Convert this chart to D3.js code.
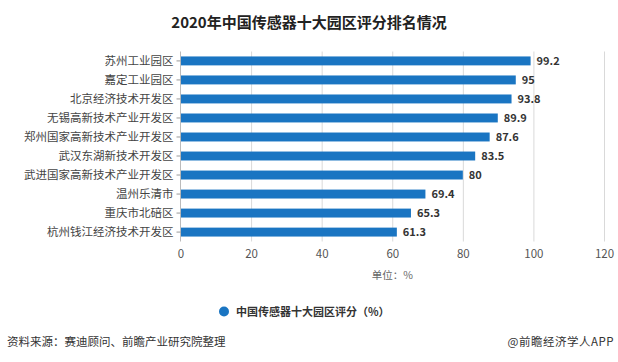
<!DOCTYPE html>
<html>
<head>
<meta charset="utf-8">
<title>2020年中国传感器十大园区评分排名情况</title>
<script src="https://d3js.org/d3.v7.min.js"></script>
<style>
body { margin: 0; background: #fff; font-family: "Noto Sans CJK SC", "Noto Sans", sans-serif; }
.grid line { stroke: #d9d9d9; }
.grid path { display: none; }
</style>
</head>
<body>
<script>
// data
var parks = ["苏州工业园区", "嘉定工业园区", "北京经济技术开发区", "无锡高新技术产业开发区",
  "郑州国家高新技术产业开发区", "武汉东湖新技术开发区", "武进国家高新技术产业开发区",
  "温州乐清市", "重庆市北碚区", "杭州钱江经济技术开发区"];
var scores = [99.2, 95, 93.8, 89.9, 87.6, 83.5, 80, 69.4, 65.3, 61.3];
var xTicks = [0, 20, 40, 60, 80, 100, 120];

var width = 618, height = 362;
var barColor = "#1a75c2";

var svg = d3.select("body").append("svg")
  .attr("width", width)
  .attr("height", height);

var x = d3.scaleLinear().domain([0, 120]).range([180.5, 604]);
var y = d3.scaleBand().domain(parks).range([51.5, 241.5]).paddingInner(0.53).paddingOuter(0.26);

// title
svg.append("text")
  .attr("x", 309).attr("y", 28)
  .attr("text-anchor", "middle")
  .attr("font-size", 15).attr("font-weight", "bold")
  .attr("fill", "#222")
  .text("2020年中国传感器十大园区评分排名情况");

// gridlines
svg.append("g").attr("class", "grid")
  .attr("transform", "translate(0,51.5)")
  .call(d3.axisBottom(x).tickValues(xTicks.slice(1)).tickSize(190).tickFormat(""));

// bars
svg.append("g").selectAll("rect")
  .data(scores)
  .enter().append("rect")
  .attr("x", x(0))
  .attr("y", function(d, i) { return y(parks[i]); })
  .attr("width", function(d) { return x(d) - x(0); })
  .attr("height", y.bandwidth())
  .attr("fill", barColor);

// value labels
svg.append("g").selectAll("text")
  .data(scores)
  .enter().append("text")
  .attr("x", function(d) { return x(d) + 6; })
  .attr("y", function(d, i) { return y(parks[i]) + y.bandwidth() / 2; })
  .attr("dy", "0.36em")
  .attr("font-size", 11).attr("font-weight", "bold")
  .attr("fill", "#333")
  .text(function(d) { return d; });

// y axis
var yAxis = svg.append("g")
  .attr("transform", "translate(180.5,0)")
  .call(d3.axisLeft(y).tickSize(4).tickPadding(3));
yAxis.select(".domain").attr("stroke", "#bbb").attr("d", "M0,51.5V241.5");
yAxis.selectAll(".tick line").attr("stroke", "#999");
yAxis.selectAll("text").attr("font-size", 11.5).attr("fill", "#444")
  .attr("font-family", "Noto Sans CJK SC");

// x tick labels
var xAxis = svg.append("g")
  .attr("transform", "translate(0,241.5)")
  .call(d3.axisBottom(x).tickValues(xTicks).tickSize(0).tickPadding(8));
xAxis.select(".domain").remove();
xAxis.selectAll("text").attr("font-size", 11.5).attr("fill", "#555")
  .attr("font-family", "Noto Sans CJK SC");

// unit
svg.append("text")
  .attr("x", x(60)).attr("y", 279)
  .attr("text-anchor", "middle")
  .attr("font-size", 10.5).attr("fill", "#666")
  .text("单位：%");

// legend
svg.append("circle").attr("cx", 224).attr("cy", 311.5).attr("r", 5).attr("fill", barColor);
svg.append("text")
  .attr("x", 236).attr("y", 315.5)
  .attr("font-size", 11).attr("font-weight", "bold").attr("fill", "#333")
  .text("中国传感器十大园区评分（%）");

// source
svg.append("text")
  .attr("x", 7).attr("y", 346)
  .attr("font-size", 11.5).attr("fill", "#333")
  .text("资料来源：赛迪顾问、前瞻产业研究院整理");
svg.append("text")
  .attr("x", 614).attr("y", 346)
  .attr("text-anchor", "end")
  .attr("font-size", 11.5).attr("fill", "#333")
  .attr("letter-spacing", 0.5)
  .text("@前瞻经济学人APP");
</script>
</body>
</html>
